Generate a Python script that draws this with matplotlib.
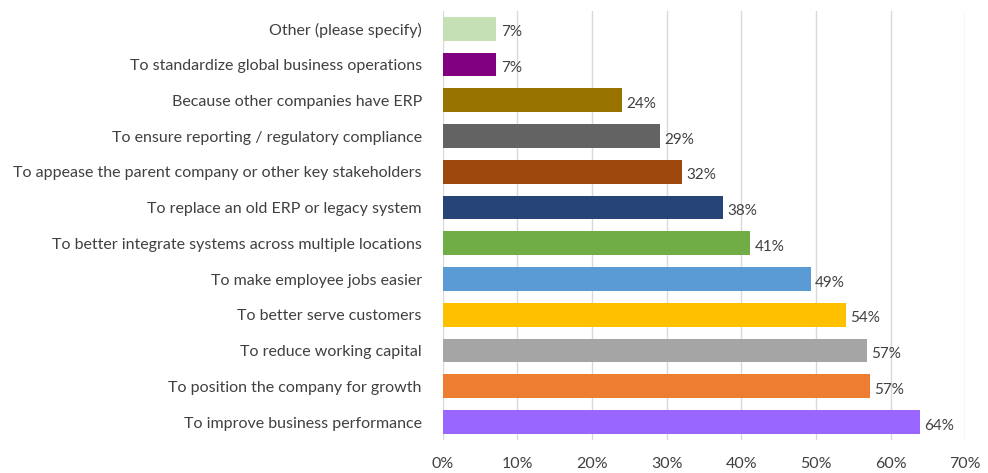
import matplotlib.pyplot as plt
from matplotlib.ticker import PercentFormatter

# categories listed bottom to top
categories = [
    'To improve business performance',
    'To position the company for growth',
    'To reduce working capital',
    'To better serve customers',
    'To make employee jobs easier',
    'To better integrate systems across multiple locations',
    'To replace an old ERP or legacy system',
    'To appease the parent company or other key stakeholders',
    'To ensure reporting / regulatory compliance',
    'Because other companies have ERP',
    'To standardize global business operations',
    'Other (please specify)',
]
values = [63.9, 57.2, 56.8, 54.0, 49.3, 41.2, 37.5, 32.0, 29.1, 24.0, 7.2, 7.2]
labels = ['64%', '57%', '57%', '54%', '49%', '41%', '38%', '32%', '29%', '24%', '7%', '7%']
colors = ['#9966ff', '#ed7d31', '#a5a5a5', '#ffc000', '#5b9bd5', '#70ad47',
          '#264478', '#9e480e', '#636363', '#997300', '#800080', '#c5e0b4']

plt.rcParams['font.family'] = ['Lato', 'DejaVu Sans']
text_color = '#404040'

fig = plt.figure(figsize=(9.88, 4.73), dpi=100)
ax = fig.add_axes([0.448, 0.07, 0.529, 0.907])

ypos = range(len(categories))
ax.barh(ypos, values, height=0.67, color=colors, zorder=2)
for y, v, lab in zip(ypos, values, labels):
    ax.text(v + 0.6, y - 0.1, lab, va='center', ha='left', fontsize=11, color=text_color)

ax.set_xlim(0, 70)
ax.set_ylim(-0.5, len(categories) - 0.5)
ax.set_xticks(range(0, 71, 10))
ax.xaxis.set_major_formatter(PercentFormatter(decimals=0))
ax.set_yticks(list(ypos))
ax.set_yticklabels(categories)
ax.grid(axis='x', color='#d9d9d9', linewidth=1, zorder=0)
for s in ax.spines.values():
    s.set_visible(False)
ax.tick_params(axis='both', length=0, colors=text_color, labelsize=11.5)
ax.tick_params(axis='x', pad=12, labelsize=11.5)
ax.tick_params(axis='y', pad=15)

fig.savefig('out.png', dpi=100)
